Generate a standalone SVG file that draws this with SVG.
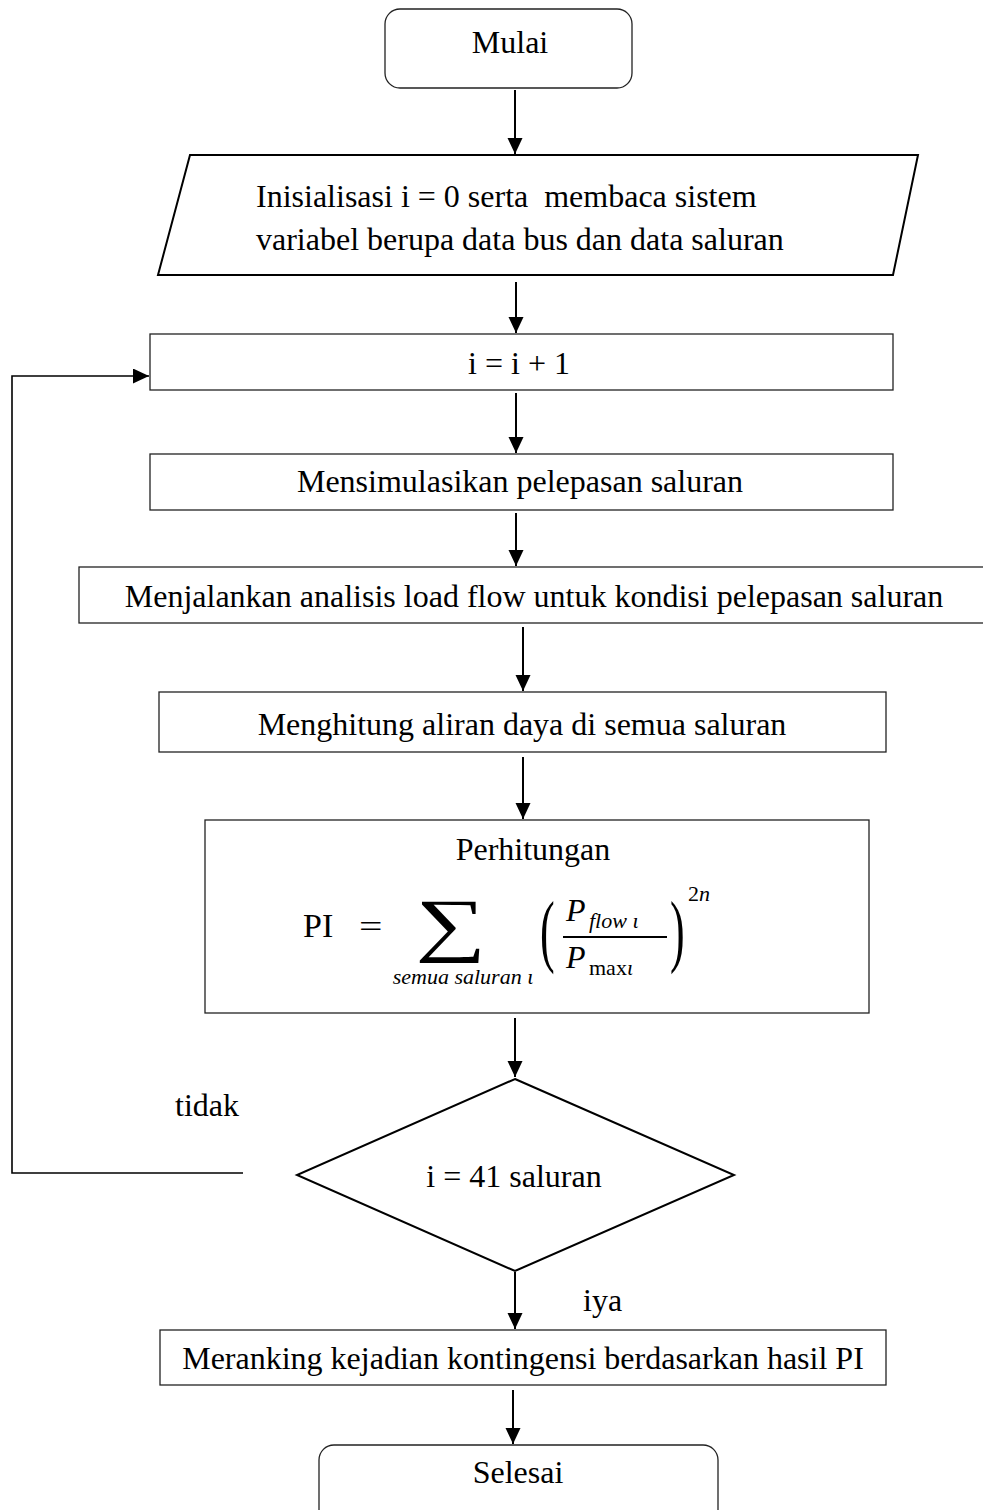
<svg xmlns="http://www.w3.org/2000/svg" width="983" height="1510" viewBox="0 0 983 1510">
<style>
.t{font-family:"Liberation Serif","Times New Roman",serif;font-size:32px;fill:#000}
.c{text-anchor:middle}
.i{font-style:italic}
.s{font-size:22px}
.box{fill:#fff;stroke:#222;stroke-width:1.3}
.thick{fill:#fff;stroke:#000;stroke-width:2}
.ar{fill:none;stroke:#000;stroke-width:2;marker-end:url(#ah)}
.loop{fill:none;stroke:#000;stroke-width:1.6}
</style>
<defs>
<marker id="ah" markerUnits="userSpaceOnUse" markerWidth="16" markerHeight="16" refX="16" refY="7.5" orient="auto">
<path d="M0,0 L16,7.5 L0,15 z" fill="#000"/>
</marker>
</defs>
<rect width="983" height="1510" fill="#fff"/>
<g id="connectors">
<line class="ar" x1="515" y1="90" x2="515" y2="154"/>
<line class="ar" x1="516" y1="282" x2="516" y2="333"/>
<line class="ar" x1="516" y1="393" x2="516" y2="453"/>
<line class="ar" x1="516" y1="513" x2="516" y2="566"/>
<line class="ar" x1="523" y1="627" x2="523" y2="691"/>
<line class="ar" x1="523" y1="757" x2="523" y2="819"/>
<line class="ar" x1="515" y1="1018" x2="515" y2="1077"/>
<line class="ar" x1="515" y1="1272" x2="515" y2="1329"/>
<line class="ar" x1="513" y1="1390" x2="513" y2="1444"/>
<polyline class="loop" points="243,1173 12,1173 12,376 149,376" marker-end="url(#ah)"/>
</g>
<g id="start">
<rect class="box" x="385" y="9" width="247" height="79" rx="15"/>
<text class="t c" x="510" y="53">Mulai</text>
</g>
<g id="input">
<polygon class="thick" points="190,155 918,155 893,275 158,275"/>
<text class="t" x="256" y="207" xml:space="preserve">Inisialisasi i = 0 serta  membaca sistem</text>
<text class="t" x="256" y="250">variabel berupa data bus dan data saluran</text>
</g>
<g id="increment">
<rect class="box" x="150" y="334" width="743" height="56"/>
<text class="t c" x="519" y="374">i = i + 1</text>
</g>
<g id="simulate">
<rect class="box" x="150" y="454" width="743" height="56"/>
<text class="t c" x="520" y="492">Mensimulasikan pelepasan saluran</text>
</g>
<g id="loadflow">
<rect class="box" x="79" y="567" width="910" height="56"/>
<text class="t c" x="534" y="607">Menjalankan analisis load flow untuk kondisi pelepasan saluran</text>
</g>
<g id="power">
<rect class="box" x="159" y="692" width="727" height="60"/>
<text class="t c" x="522" y="735">Menghitung aliran daya di semua saluran</text>
</g>
<g id="pi">
<rect class="box" x="205" y="820" width="664" height="193"/>
<text class="t c" x="533" y="860">Perhitungan</text>
<text class="t" x="303" y="937" style="font-size:34px">PI</text>
<text class="t" transform="translate(359,937) scale(1.3,1)">=</text>
<text class="t c" transform="translate(451,948) scale(1.4,1)" style="font-size:71px">∑</text>
<text class="t c i s" x="463" y="984">semua saluran ι</text>
<text class="t" transform="translate(540,957) scale(0.55,1)" style="font-size:80px">(</text>
<text class="t i" x="566" y="921">P</text>
<text class="t i s" x="589" y="928">flow ι</text>
<line x1="563" y1="937" x2="667" y2="937" stroke="#000" stroke-width="2"/>
<text class="t i" x="566" y="968">P</text>
<text class="t s" x="589" y="975">max<tspan class="i">ι</tspan></text>
<text class="t" transform="translate(670,957) scale(0.55,1)" style="font-size:80px">)</text>
<text class="t s" x="688" y="901">2<tspan class="i">n</tspan></text>
</g>
<g id="decision">
<polygon class="thick" points="515,1079 734,1175 515,1271 297,1175"/>
<text class="t c" x="514" y="1187">i = 41 saluran</text>
<text class="t" x="175" y="1116">tidak</text>
<text class="t" x="583" y="1311">iya</text>
</g>
<g id="rank">
<rect class="box" x="160" y="1330" width="726" height="55"/>
<text class="t c" x="523" y="1369">Meranking kejadian kontingensi berdasarkan hasil PI</text>
</g>
<g id="end">
<rect class="box" x="319" y="1445" width="399" height="80" rx="15"/>
<text class="t c" x="518" y="1483">Selesai</text>
</g>
</svg>
